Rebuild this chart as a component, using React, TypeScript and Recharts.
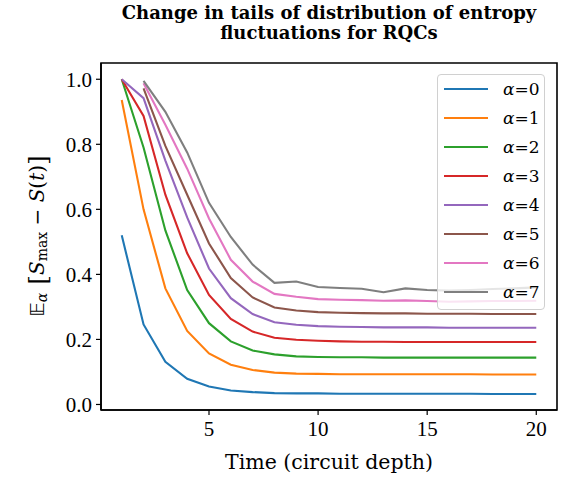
import React from 'react';
import { LineChart, Line, XAxis, YAxis, Legend, Customized, ReferenceArea } from 'recharts';

const times = [1, 2, 3, 4, 5, 6, 7, 8, 9, 10, 11, 12, 13, 14, 15, 16, 17, 18, 19, 20];
const alpha0 = [0.52, 0.246, 0.131, 0.079, 0.055, 0.043, 0.038, 0.035, 0.034, 0.034, 0.033, 0.033, 0.033, 0.033, 0.033, 0.033, 0.033, 0.032, 0.032, 0.032];
const alpha1 = [0.936, 0.6, 0.357, 0.226, 0.157, 0.122, 0.106, 0.098, 0.095, 0.094, 0.093, 0.093, 0.093, 0.093, 0.093, 0.093, 0.093, 0.092, 0.092, 0.092];
const alpha2 = [1.0, 0.79, 0.535, 0.352, 0.25, 0.194, 0.166, 0.154, 0.148, 0.146, 0.145, 0.145, 0.144, 0.144, 0.144, 0.144, 0.144, 0.144, 0.144, 0.144];
const alpha3 = [1.0, 0.887, 0.645, 0.465, 0.337, 0.263, 0.224, 0.205, 0.199, 0.196, 0.194, 0.193, 0.193, 0.192, 0.192, 0.192, 0.192, 0.192, 0.192, 0.192];
const alpha4 = [1.0, 0.942, 0.75, 0.575, 0.418, 0.327, 0.278, 0.253, 0.245, 0.241, 0.239, 0.238, 0.237, 0.237, 0.237, 0.236, 0.236, 0.236, 0.236, 0.236];
const alpha5 = [null, 0.972, 0.795, 0.645, 0.495, 0.389, 0.329, 0.298, 0.289, 0.284, 0.282, 0.281, 0.28, 0.28, 0.279, 0.279, 0.279, 0.278, 0.278, 0.278];
const alpha6 = [null, 0.988, 0.86, 0.725, 0.572, 0.445, 0.378, 0.34, 0.331, 0.324, 0.322, 0.321, 0.319, 0.32, 0.318, 0.316, 0.317, 0.318, 0.318, 0.319];
const alpha7 = [null, 0.995, 0.9, 0.775, 0.62, 0.515, 0.43, 0.374, 0.378, 0.361, 0.358, 0.356, 0.345, 0.357, 0.352, 0.35, 0.352, 0.355, 0.357, 0.36];

const seriesValues = [alpha0, alpha1, alpha2, alpha3, alpha4, alpha5, alpha6, alpha7];
const seriesNames = ['0', '1', '2', '3', '4', '5', '6', '7'];
const colors = ['#1f77b4', '#ff7f0e', '#2ca02c', '#d62728', '#9467bd', '#8c564b', '#e377c2', '#7f7f7f'];
const xTicks = [5, 10, 15, 20];
const yTicks = [0, 0.2, 0.4, 0.6, 0.8, 1.0];

const data = times.map((t, i) => {
  const row: Record<string, number | null> = { t };
  seriesValues.forEach((s, k) => {
    row['a' + k] = s[i];
  });
  return row;
});

const SERIF = '"Liberation Serif", "Times New Roman", serif';
const DSERIF = '"DejaVu Serif", serif';
const XDOMAIN: [number, number] = [0.05, 20.95];
const YDOMAIN: [number, number] = [-0.017, 1.05];

const Title = () => (
  <g>
    <text x={329} y={19} textAnchor="middle" fontFamily={DSERIF} fontWeight="bold" fontSize={18} fill="#000">
      Change in tails of distribution of entropy
    </text>
    <text x={329} y={39} textAnchor="middle" fontFamily={DSERIF} fontWeight="bold" fontSize={18} fill="#000">
      fluctuations for RQCs
    </text>
  </g>
);

const YLabel = () => (
  <text
    x={37}
    y={236}
    transform="rotate(-90, 37, 236)"
    textAnchor="middle"
    dominantBaseline="central"
    fontFamily={DSERIF}
    fontSize={20}
    fill="#000"
  >
    <tspan fontFamily='"DejaVu Sans", sans-serif' fontSize={20}>𝔼</tspan>
    <tspan dy={5} fontSize={14} fontStyle="italic">α</tspan>
    <tspan dy={-5} fontSize={25}> [</tspan>
    <tspan fontStyle="italic">S</tspan>
    <tspan dy={5} fontSize={14}>max</tspan>
    <tspan dy={-5}> − </tspan>
    <tspan fontStyle="italic">S</tspan>
    <tspan>(</tspan>
    <tspan fontStyle="italic">t</tspan>
    <tspan>)</tspan>
    <tspan fontSize={25}>]</tspan>
  </text>
);

const XLabel = () => (
  <text x={329} y={469} textAnchor="middle" fontFamily={DSERIF} fontSize={20.5} fill="#000">
    Time (circuit depth)
  </text>
);

const LegendBox = () => (
  <div
    style={{
      position: 'absolute',
      left: 437,
      top: 74,
      width: 108,
      height: 236,
      boxSizing: 'border-box',
      border: '1px solid #d0d0d0',
      borderRadius: 4,
      background: 'rgba(255,255,255,0.8)',
    }}
  >
    {seriesNames.map((n, k) => (
      <div
        key={n}
        style={{
          position: 'absolute',
          left: 0,
          top: 14.3 + 28.96 * k - 14,
          height: 28,
          width: 106,
        }}
      >
        <div style={{ position: 'absolute', left: 6, top: 13, width: 44, height: 2.2, background: colors[k] }} />
        <div
          style={{
            position: 'absolute',
            left: 65,
            top: 2,
            fontFamily: DSERIF,
            fontSize: 17,
            lineHeight: '24px',
            color: '#000',
            whiteSpace: 'nowrap',
          }}
        >
          <span style={{ fontStyle: 'italic' }}>α</span>={n}
        </div>
      </div>
    ))}
  </div>
);

const spine = { stroke: '#000', strokeWidth: 1.6 };

export default function App() {
  return (
    <div style={{ position: 'absolute', left: 0, top: 0 }}>
      <LineChart
        width={578}
        height={481}
        data={data}
        margin={{ top: 63, right: 21, bottom: 31, left: 41 }}
      >
        <XAxis
          dataKey="t"
          type="number"
          domain={XDOMAIN}
          ticks={xTicks}
          allowDataOverflow
          height={40}
          tickSize={5}
          tickMargin={6}
          tick={{ fontFamily: SERIF, fontSize: 21, fill: '#000' }}
          axisLine={spine}
          tickLine={{ stroke: '#000', strokeWidth: 1.2 }}
        />
        <YAxis
          type="number"
          domain={YDOMAIN}
          ticks={yTicks}
          allowDataOverflow
          width={60}
          tickSize={5}
          tickMargin={4}
          tickFormatter={(v: number) => v.toFixed(1)}
          tick={{ fontFamily: SERIF, fontSize: 21, fill: '#000' }}
          axisLine={spine}
          tickLine={{ stroke: '#000', strokeWidth: 1.2 }}
        />
        <ReferenceArea
          x1={XDOMAIN[0]}
          x2={XDOMAIN[1]}
          y1={YDOMAIN[0]}
          y2={YDOMAIN[1]}
          fill="none"
          fillOpacity={0}
          stroke="#000"
          strokeWidth={1.6}
          ifOverflow="visible"
        />
        {seriesNames.map((n, k) => (
          <Line
            key={n}
            dataKey={'a' + k}
            name={'α=' + n}
            stroke={colors[k]}
            strokeWidth={2.1}
            dot={false}
            activeDot={false}
            isAnimationActive={false}
            connectNulls={false}
          />
        ))}
        <Customized component={<Title />} />
        <Customized component={<YLabel />} />
        <Customized component={<XLabel />} />
        <Legend
          layout="vertical"
          align="center"
          verticalAlign="middle"
          content={() => <LegendBox />}
          wrapperStyle={{ position: 'absolute', left: 0, top: 0, width: 0, height: 0 }}
        />
      </LineChart>
    </div>
  );
}
